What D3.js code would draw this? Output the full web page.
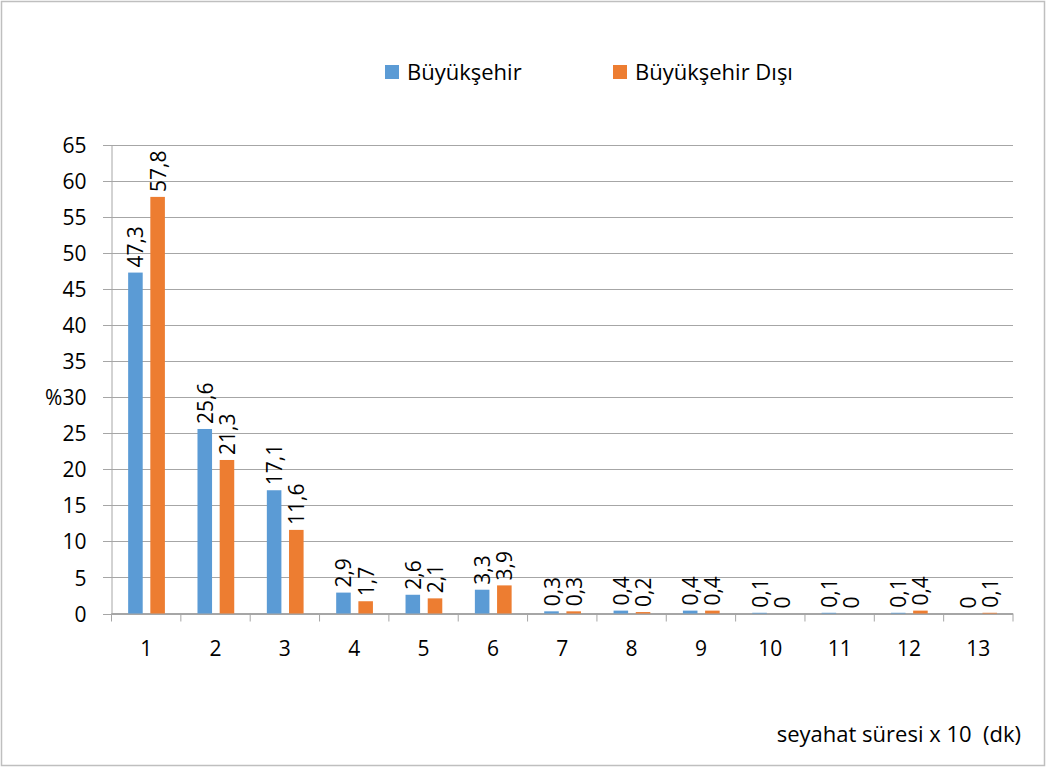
<!DOCTYPE html>
<html><head><meta charset="utf-8">
<script src="https://cdn.jsdelivr.net/npm/d3@7"></script>
<style>body{margin:0;background:#fff}svg{display:block}text{font-family:"Open Sans",sans-serif;fill:#000}</style>
</head><body>
<svg id="c" width="1046" height="767"></svg>
<script>
const categories = ["1","2","3","4","5","6","7","8","9","10","11","12","13"];
const seriesNames = ["Büyükşehir","Büyükşehir Dışı"];
const buyuksehir = [47.3,25.6,17.1,2.9,2.6,3.3,0.3,0.4,0.4,0.1,0.1,0.1,0];
const buyuksehirDisi = [57.8,21.3,11.6,1.7,2.1,3.9,0.3,0.2,0.4,0,0,0.4,0.1];
const yTicks = [0,5,10,15,20,25,30,35,40,45,50,55,60,65];
const colors = ["#5B9BD5","#ED7D31"];

const svg = d3.select("#c");
svg.append("rect").attr("x",1.5).attr("y",1.5).attr("width",1043).attr("height",764)
  .attr("fill","#fff").attr("stroke","#bfbfbf").attr("stroke-width",1.5);

const L=111.5, R=1013, T=145, B=613.5;
const x = d3.scaleBand().domain(categories).range([L,R]);
const y = d3.scaleLinear().domain([0,65]).range([B,T]);

// gridlines
svg.append("g").selectAll("line").data(yTicks).join("line")
  .attr("x1",103).attr("x2",R).attr("y1",d=>Math.round(y(d))+0.5).attr("y2",d=>Math.round(y(d))+0.5)
  .attr("stroke","#a6a6a6").attr("stroke-width",1);

// y axis
const ya = svg.append("g").attr("transform",`translate(${L},0)`)
  .call(d3.axisLeft(y).tickValues(yTicks).tickSize(0).tickPadding(25).tickFormat(d=>d));
ya.select(".domain").attr("stroke","#a6a6a6");
ya.selectAll("text").style("font-size","21px").attr("dy","0.36em");

// x axis
const xa = svg.append("g").attr("transform",`translate(0,${B})`);
xa.append("line").attr("x1",L).attr("x2",R).attr("stroke","#a6a6a6");
const bounds = categories.map(c=>x(c)).concat([R]);
xa.selectAll("line.t").data(bounds).join("line").attr("class","t")
  .attr("x1",d=>d).attr("x2",d=>d).attr("y1",0).attr("y2",8).attr("stroke","#a6a6a6");
xa.selectAll("text").data(categories).join("text")
  .attr("x",d=>x(d)+x.bandwidth()/2).attr("y",42).attr("text-anchor","middle")
  .style("font-size","21px").text(d=>d);

// bars
const bw = x.bandwidth();
const barW = bw*0.21, off=[bw*0.24, bw*0.24+bw*0.21+bw*0.11];
const series=[buyuksehir,buyuksehirDisi];
series.forEach((vals,si)=>{
  const g = svg.append("g");
  g.selectAll("rect").data(vals).join("rect")
    .attr("x",(d,i)=>x(categories[i])+off[si]).attr("width",barW)
    .attr("y",d=>y(d)).attr("height",d=>B-y(d)).attr("fill",colors[si]);
  g.selectAll("text").data(vals).join("text")
    .attr("transform",(d,i)=>`translate(${x(categories[i])+off[si]+barW/2+8},${y(d)-5}) rotate(-90)`)
    .attr("text-anchor","start").style("font-size","21px")
    .text(d=>String(d).replace(".",","));
});

// y title, placed right before the "30" tick label
let w30 = 0;
ya.selectAll(".tick text").each(function(d){ if(d===30) w30 = this.getComputedTextLength(); });
svg.append("text").attr("x",L-25-w30).attr("y",y(30)).attr("dy","0.36em").attr("text-anchor","end")
  .style("font-size","21px").text("%");

// x title
svg.append("text").attr("x",1021).attr("y",742).attr("text-anchor","end")
  .style("font-size","22px").attr("xml:space","preserve").text("seyahat süresi x 10  (dk)");

// legend
const lg = svg.append("g");
const lx=[385,613];
seriesNames.forEach((n,i)=>{
  lg.append("rect").attr("x",lx[i]).attr("y",65).attr("width",14).attr("height",14).attr("fill",colors[i]);
  lg.append("text").attr("x",lx[i]+22).attr("y",80).style("font-size","22px").text(n);
});
</script>
</body></html>
